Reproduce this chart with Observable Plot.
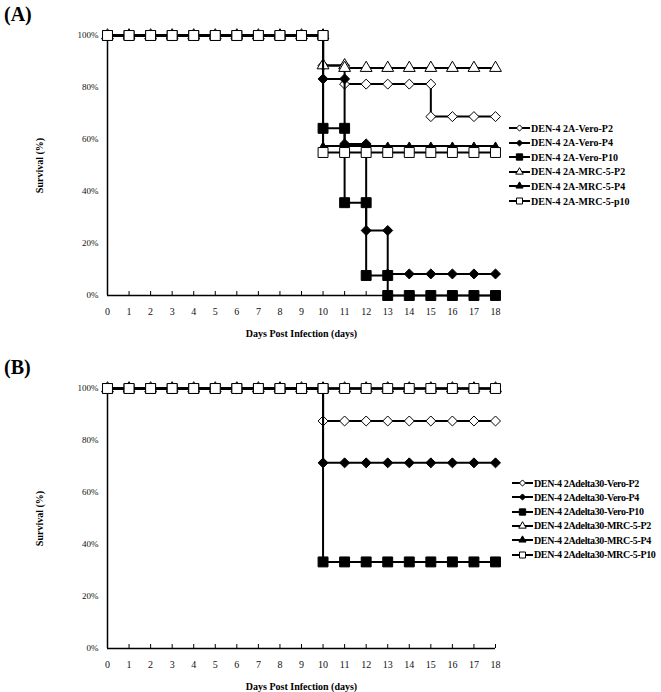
<!DOCTYPE html>
<html>
<head>
<meta charset="utf-8">
<script src="https://cdn.jsdelivr.net/npm/d3@7"></script>
<script src="https://cdn.jsdelivr.net/npm/@observablehq/plot@0.6"></script>
<style>
  html, body { margin: 0; padding: 0; background: #fff; }
  body { width: 661px; height: 692px; position: relative; overflow: hidden; font-family: "Liberation Serif", "Times New Roman", serif; }
  .tag { position: absolute; font: bold 20px "Liberation Serif", serif; line-height: 1; }
  .plotbox { position: absolute; left: 0; }
  .legend { position: absolute; font: bold 10px "Liberation Serif", serif; color: #000; }
  .legend .row { position: absolute; left: 0; height: 14px; white-space: nowrap; display: flex; align-items: center; }
  .legend svg { display: block; }
  #legendB { letter-spacing: -0.35px; }
  svg g[aria-label="x-axis label"] text, svg g[aria-label="y-axis label"] text { font-weight: bold; font-size: 10px; }
  svg g[aria-label="y-axis tick label"] text, svg g[aria-label="x-axis tick label"] text { fill: #111; }
</style>
</head>
<body>
<div class="tag" style="left:4px; top:4px;">(A)</div>
<div class="tag" style="left:4px; top:357px;">(B)</div>
<div id="plotA" class="plotbox" style="top:0px;"></div>
<div id="plotB" class="plotbox" style="top:353px;"></div>
<div id="legendA" class="legend" style="left:509px; top:121px;"></div>
<div id="legendB" class="legend" style="left:512px; top:476px;"></div>
<script>
// ---------- data ----------
const days = [0,1,2,3,4,5,6,7,8,9,10,11,12,13,14,15,16,17,18];
const yTicks = [0,20,40,60,80,100];
const xLabel = "Days Post Infection (days)";
const yLabel = "Survival (%)";

const namesA = ["DEN-4 2A-Vero-P2","DEN-4 2A-Vero-P4","DEN-4 2A-Vero-P10","DEN-4 2A-MRC-5-P2","DEN-4 2A-MRC-5-P4","DEN-4 2A-MRC-5-p10"];
const namesB = ["DEN-4 2Adelta30-Vero-P2","DEN-4 2Adelta30-Vero-P4","DEN-4 2Adelta30-Vero-P10","DEN-4 2Adelta30-MRC-5-P2","DEN-4 2Adelta30-MRC-5-P4","DEN-4 2Adelta30-MRC-5-P10"];

// Panel A
const aVeroP2Day  = [0,1,2,3,4,5,6,7,8,9,10,10,11,11,12,13,14,15,15,16,17,18];
const aVeroP2Surv = [100,100,100,100,100,100,100,100,100,100,100,88.5,88.5,81.3,81.3,81.3,81.3,81.3,68.8,68.8,68.8,68.8];
const aVeroP4Day  = [0,1,2,3,4,5,6,7,8,9,10,10,11,11,12,12,13,13,14,15,16,17,18];
const aVeroP4Surv = [100,100,100,100,100,100,100,100,100,100,100,83.3,83.3,58.3,58.3,25,25,8.3,8.3,8.3,8.3,8.3,8.3];
const aVeroP10Day  = [0,1,2,3,4,5,6,7,8,9,10,10,11,11,12,12,13,13,14,15,16,17,18];
const aVeroP10Surv = [100,100,100,100,100,100,100,100,100,100,100,64.3,64.3,35.7,35.7,7.7,7.7,0,0,0,0,0,0];
const aMrcP2Day  = [0,1,2,3,4,5,6,7,8,9,10,10,11,11,12,13,14,15,16,17,18];
const aMrcP2Surv = [100,100,100,100,100,100,100,100,100,100,100,88.5,88.5,87.5,87.5,87.5,87.5,87.5,87.5,87.5,87.5];
const aMrcP4Day  = [0,1,2,3,4,5,6,7,8,9,10,10,11,12,13,14,15,16,17,18];
const aMrcP4Surv = [100,100,100,100,100,100,100,100,100,100,100,57.5,57.5,57.5,57.5,57.5,57.5,57.5,57.5,57.5];
const aMrcP10Day  = [0,1,2,3,4,5,6,7,8,9,10,10,11,12,13,14,15,16,17,18];
const aMrcP10Surv = [100,100,100,100,100,100,100,100,100,100,100,55,55,55,55,55,55,55,55,55];

// Panel B
const bVeroP2Day  = [0,1,2,3,4,5,6,7,8,9,10,10,11,12,13,14,15,16,17,18];
const bVeroP2Surv = [100,100,100,100,100,100,100,100,100,100,100,87.5,87.5,87.5,87.5,87.5,87.5,87.5,87.5,87.5];
const bVeroP4Day  = [0,1,2,3,4,5,6,7,8,9,10,10,11,12,13,14,15,16,17,18];
const bVeroP4Surv = [100,100,100,100,100,100,100,100,100,100,100,71.4,71.4,71.4,71.4,71.4,71.4,71.4,71.4,71.4];
const bVeroP10Day  = [0,1,2,3,4,5,6,7,8,9,10,10,11,12,13,14,15,16,17,18];
const bVeroP10Surv = [100,100,100,100,100,100,100,100,100,100,100,33.3,33.3,33.3,33.3,33.3,33.3,33.3,33.3,33.3];
const bMrcP2Day  = [0,1,2,3,4,5,6,7,8,9,10,11,12,13,14,15,16,17,18];
const bMrcP2Surv = [100,100,100,100,100,100,100,100,100,100,100,100,100,100,100,100,100,100,100];
const bMrcP4Day  = [0,1,2,3,4,5,6,7,8,9,10,11,12,13,14,15,16,17,18];
const bMrcP4Surv = [100,100,100,100,100,100,100,100,100,100,100,100,100,100,100,100,100,100,100];
const bMrcP10Day  = [0,1,2,3,4,5,6,7,8,9,10,11,12,13,14,15,16,17,18];
const bMrcP10Surv = [100,100,100,100,100,100,100,100,100,100,100,100,100,100,100,100,100,100,100];

// ---------- styles ----------
const markerStyles = [
  {symbol: "diamond2", d3sym: d3.symbolDiamond2, fill: "white", r: 4.5, legSize: 24},
  {symbol: "diamond2", d3sym: d3.symbolDiamond2, fill: "black", r: 4.5, legSize: 24},
  {symbol: "square",   d3sym: d3.symbolSquare,   fill: "black", r: 5.6, legSize: 40},
  {symbol: "triangle", d3sym: d3.symbolTriangle, fill: "white", r: 4.4, legSize: 24},
  {symbol: "triangle", d3sym: d3.symbolTriangle, fill: "black", r: 2.6, legSize: 22},
  {symbol: "square",   d3sym: d3.symbolSquare,   fill: "white", r: 5.6, legSize: 36}
];

const seriesA = [
  [aVeroP2Day, aVeroP2Surv], [aVeroP4Day, aVeroP4Surv], [aVeroP10Day, aVeroP10Surv],
  [aMrcP2Day, aMrcP2Surv], [aMrcP4Day, aMrcP4Surv], [aMrcP10Day, aMrcP10Surv]
];
const seriesB = [
  [bVeroP2Day, bVeroP2Surv], [bVeroP4Day, bVeroP4Surv], [bVeroP10Day, bVeroP10Surv],
  [bMrcP2Day, bMrcP2Surv], [bMrcP4Day, bMrcP4Surv], [bMrcP10Day, bMrcP10Surv]
];

function makePlot(series, marginBottom, height) {
  const marks = [
    Plot.axisY({ticks: yTicks, tickSize: 0, tickPadding: 9, tickFormat: d => d + "%",
      label: yLabel, labelAnchor: "center", labelOffset: 72, labelArrow: "none", fontSize: 9}),
    Plot.axisX({ticks: days, tickSize: -4, tickPadding: 16, tickFormat: d => String(d),
      label: xLabel, labelAnchor: "center", labelOffset: 41, labelArrow: "none", fontSize: 10}),
    Plot.ruleY([0], {stroke: "black", strokeWidth: 1.5}),
    Plot.ruleX([0], {stroke: "black", strokeWidth: 1.5})
  ];
  series.forEach(([dd, ss], i) => {
    const st = markerStyles[i];
    const data = dd.map((d, j) => ({day: d, surv: ss[j]}));
    marks.push(Plot.line(data, {x: "day", y: "surv", stroke: "black", strokeWidth: 2}));
    marks.push(Plot.dot(data, {x: "day", y: "surv", symbol: st.symbol, fill: st.fill, stroke: "black", strokeWidth: 1, r: st.r}));
  });
  return Plot.plot({
    width: 505, height: height,
    marginLeft: 107, marginRight: 10, marginTop: 35, marginBottom: marginBottom,
    x: {domain: [0, 18]},
    y: {domain: [0, 100]},
    style: {background: "transparent", fontFamily: "'Liberation Serif', serif", color: "black", overflow: "visible"},
    marks
  });
}

document.getElementById("plotA").appendChild(makePlot(seriesA, 50, 345));
document.getElementById("plotB").appendChild(makePlot(seriesB, 44, 339));

function makeLegend(el, names, rowStep, textGap) {
  names.forEach((name, i) => {
    const st = markerStyles[i];
    const row = document.createElement("div");
    row.className = "row";
    row.style.top = (i * rowStep) + "px";
    const svg = d3.create("svg").attr("width", 21).attr("height", 14);
    svg.append("line").attr("x1", 0).attr("x2", 21).attr("y1", 7).attr("y2", 7)
      .attr("stroke", "black").attr("stroke-width", 2);
    svg.append("path").attr("transform", "translate(10.5,7)")
      .attr("d", d3.symbol(st.d3sym, st.legSize)())
      .attr("fill", st.fill).attr("stroke", "black").attr("stroke-width", 1);
    row.appendChild(svg.node());
    const span = document.createElement("span");
    span.textContent = name;
    span.style.marginLeft = textGap + "px";
    row.appendChild(span);
    el.appendChild(row);
  });
}
makeLegend(document.getElementById("legendA"), namesA, 14.6, 1);
makeLegend(document.getElementById("legendB"), namesB, 14.3, 1);
</script>
</body>
</html>
